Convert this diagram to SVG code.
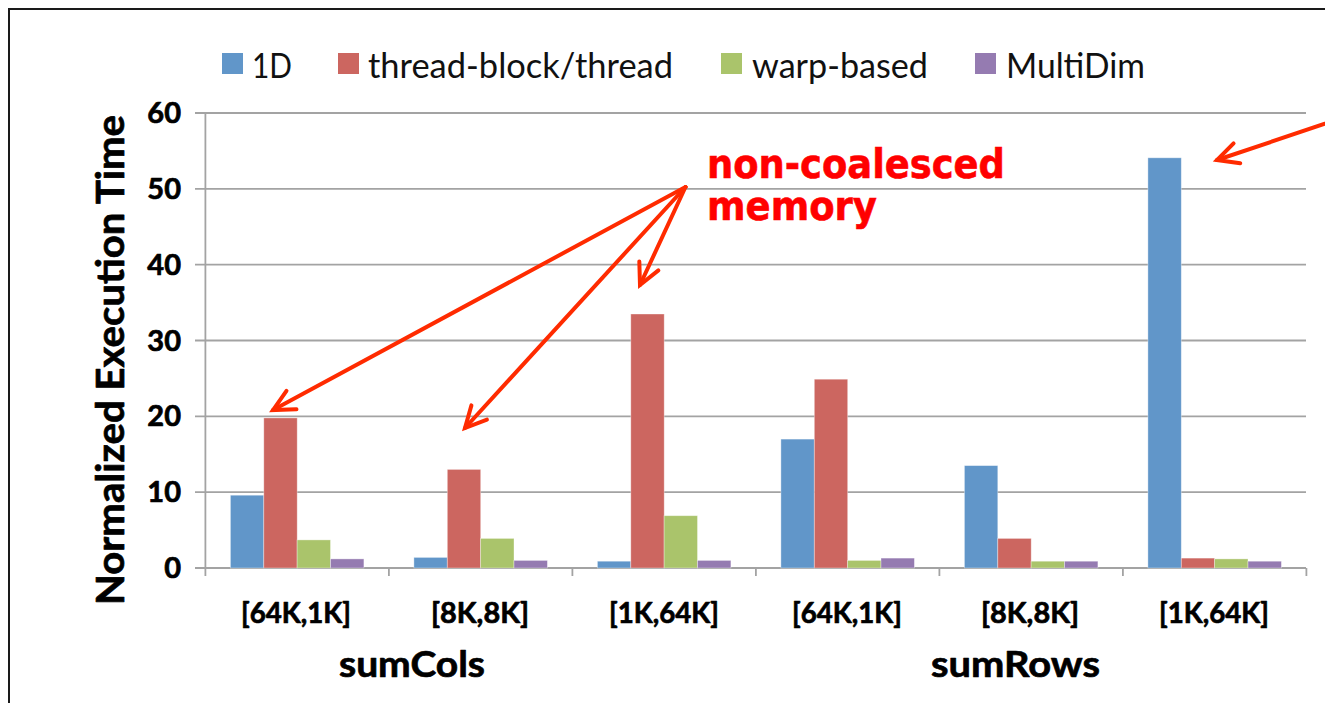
<svg xmlns="http://www.w3.org/2000/svg" width="1325" height="703" viewBox="0 0 1325 703">
  <style>
    .grid { stroke: #a3a3a3; stroke-width: 1.8; fill: none; }
    .tick { stroke: #a3a3a3; stroke-width: 1.8; fill: none; }
    .s1 { fill: #6196c9; }
    .s2 { fill: #cc6660; }
    .s3 { fill: #aac46b; }
    .s4 { fill: #957bb1; }
    .bar { stroke: #ffffff; stroke-opacity: 0.45; stroke-width: 0.8; }
    .legend { font-family: Lato, "Liberation Sans", sans-serif; font-size: 34px; fill: #111111; }
    .heavy { stroke: #000000; stroke-width: 0.7; stroke-linejoin: round; }
    .ylab { font-family: Lato, "Liberation Sans", sans-serif; font-weight: bold; font-size: 29px; fill: #000000; text-anchor: end; }
    .cat { font-family: Lato, "Liberation Sans", sans-serif; font-weight: bold; font-size: 29px; fill: #000000; text-anchor: middle; }
    .grp { font-family: Lato, "Liberation Sans", sans-serif; font-weight: bold; font-size: 37px; fill: #000000; }
    .title { font-family: Lato, "Liberation Sans", sans-serif; font-weight: bold; font-size: 39px; fill: #000000; text-anchor: middle; }
    .note { font-family: "DejaVu Sans", Verdana, sans-serif; font-weight: bold; font-size: 40px; fill: #ff0000; stroke: #ff0000; stroke-width: 0.6; }
    .arrow { stroke: #ff2b00; stroke-width: 4; fill: none; stroke-linecap: round; marker-end: url(#chev); }
  </style>
  <defs>
    <marker id="chev" markerUnits="userSpaceOnUse" markerWidth="40" markerHeight="40" viewBox="-28 -20 40 40" refX="0" refY="0" orient="auto" overflow="visible">
      <path d="M-21,-10.5 L0,0 L-21,10.5" fill="none" stroke="#ff2b00" stroke-width="4" stroke-linecap="round" stroke-linejoin="miter"/>
    </marker>
  </defs>

  <rect width="1325" height="703" fill="#ffffff"/>

  <!-- outer frame (left and top edges) -->
  <path d="M9,703 V9 H1325" fill="none" stroke="#1a1a1a" stroke-width="2"/>

  <!-- legend -->
  <g id="legend">
    <rect class="s1" x="222" y="53" width="21" height="21"/>
    <text class="legend" x="252" y="78" textLength="40" lengthAdjust="spacingAndGlyphs">1D</text>
    <rect class="s2" x="338" y="53" width="21" height="21"/>
    <text class="legend" x="368" y="78" textLength="305" lengthAdjust="spacingAndGlyphs">thread-block/thread</text>
    <rect class="s3" x="721" y="53" width="21" height="21"/>
    <text class="legend" x="752" y="78" textLength="176" lengthAdjust="spacingAndGlyphs">warp-based</text>
    <rect class="s4" x="975" y="53" width="21" height="21"/>
    <text class="legend" x="1006" y="78" textLength="139" lengthAdjust="spacingAndGlyphs">MultiDim</text>
  </g>

  <!-- gridlines and value axis -->
  <g id="grid">
    <path class="grid" d="M195,113 H1306 M195,188.8 H1306 M195,264.7 H1306 M195,340.5 H1306 M195,416.3 H1306 M195,492.2 H1306 M195,568 H1306"/>
    <path class="tick" d="M205.4,113 V576"/>
    <path class="tick" d="M388.9,568 V576 M572.4,568 V576 M755.9,568 V576 M939.4,568 V576 M1122.9,568 V576 M1306.4,568 V576"/>
  </g>

  <!-- value axis labels -->
  <g id="y-labels">
    <text class="ylab heavy" x="181" y="123">60</text>
    <text class="ylab heavy" x="181" y="198.8">50</text>
    <text class="ylab heavy" x="181" y="274.7">40</text>
    <text class="ylab heavy" x="181" y="350.5">30</text>
    <text class="ylab heavy" x="181" y="426.3">20</text>
    <text class="ylab heavy" x="181" y="502.2">10</text>
    <text class="ylab heavy" x="181" y="578">0</text>
  </g>
  <text id="y-title" class="title heavy" transform="translate(124,360) rotate(-90)" textLength="490" lengthAdjust="spacingAndGlyphs">Normalized Execution Time</text>

  <!-- bars: sumCols -->
  <g id="sumCols-64K-1K">
    <rect class="bar s1" x="230.4" y="495.2" width="33.4" height="72.8"/>
    <rect class="bar s2" x="263.8" y="417.9" width="33.4" height="150.1"/>
    <rect class="bar s3" x="297.1" y="539.9" width="33.4" height="28.1"/>
    <rect class="bar s4" x="330.5" y="558.9" width="33.4" height="9.1"/>
  </g>
  <g id="sumCols-8K-8K">
    <rect class="bar s1" x="413.9" y="557.4" width="33.4" height="10.6"/>
    <rect class="bar s2" x="447.3" y="469.4" width="33.4" height="98.6"/>
    <rect class="bar s3" x="480.6" y="538.4" width="33.4" height="29.6"/>
    <rect class="bar s4" x="514.0" y="560.4" width="33.4" height="7.6"/>
  </g>
  <g id="sumCols-1K-64K">
    <rect class="bar s1" x="597.4" y="561.2" width="33.4" height="6.8"/>
    <rect class="bar s2" x="630.8" y="314.0" width="33.4" height="254.0"/>
    <rect class="bar s3" x="664.1" y="515.7" width="33.4" height="52.3"/>
    <rect class="bar s4" x="697.5" y="560.4" width="33.4" height="7.6"/>
  </g>
  <!-- bars: sumRows -->
  <g id="sumRows-64K-1K">
    <rect class="bar s1" x="780.9" y="439.1" width="33.4" height="128.9"/>
    <rect class="bar s2" x="814.3" y="379.2" width="33.4" height="188.8"/>
    <rect class="bar s3" x="847.6" y="560.4" width="33.4" height="7.6"/>
    <rect class="bar s4" x="881.0" y="558.1" width="33.4" height="9.9"/>
  </g>
  <g id="sumRows-8K-8K">
    <rect class="bar s1" x="964.4" y="465.6" width="33.4" height="102.4"/>
    <rect class="bar s2" x="997.8" y="538.4" width="33.4" height="29.6"/>
    <rect class="bar s3" x="1031.1" y="561.2" width="33.4" height="6.8"/>
    <rect class="bar s4" x="1064.5" y="561.2" width="33.4" height="6.8"/>
  </g>
  <g id="sumRows-1K-64K">
    <rect class="bar s1" x="1147.9" y="157.8" width="33.4" height="410.2"/>
    <rect class="bar s2" x="1181.3" y="558.1" width="33.4" height="9.9"/>
    <rect class="bar s3" x="1214.6" y="558.9" width="33.4" height="9.1"/>
    <rect class="bar s4" x="1248.0" y="561.2" width="33.4" height="6.8"/>
  </g>

  <!-- category labels -->
  <g id="x-labels">
    <text class="cat heavy" x="296" y="623" textLength="110" lengthAdjust="spacingAndGlyphs">[64K,1K]</text>
    <text class="cat heavy" x="480" y="623" textLength="98" lengthAdjust="spacingAndGlyphs">[8K,8K]</text>
    <text class="cat heavy" x="664" y="623" textLength="110" lengthAdjust="spacingAndGlyphs">[1K,64K]</text>
    <text class="cat heavy" x="847" y="623" textLength="110" lengthAdjust="spacingAndGlyphs">[64K,1K]</text>
    <text class="cat heavy" x="1030" y="623" textLength="98" lengthAdjust="spacingAndGlyphs">[8K,8K]</text>
    <text class="cat heavy" x="1214" y="623" textLength="110" lengthAdjust="spacingAndGlyphs">[1K,64K]</text>
    <text class="grp heavy" x="339" y="677" textLength="146" lengthAdjust="spacingAndGlyphs">sumCols</text>
    <text class="grp heavy" x="931" y="677" textLength="169" lengthAdjust="spacingAndGlyphs">sumRows</text>
  </g>

  <!-- annotation -->
  <g id="annotation">
    <text class="note" x="707" y="178" textLength="298" lengthAdjust="spacingAndGlyphs">non-coalesced</text>
    <text class="note" x="707" y="220" textLength="170" lengthAdjust="spacingAndGlyphs">memory</text>
  </g>

  <!-- connectors -->
  <g id="connectors">
    <line class="arrow" x1="685.5" y1="187" x2="273" y2="410"/>
    <line class="arrow" x1="685.5" y1="187" x2="465" y2="428"/>
    <line class="arrow" x1="685.5" y1="187" x2="640" y2="285"/>
    <line class="arrow" x1="1345" y1="117" x2="1217" y2="160"/>
  </g>
</svg>
